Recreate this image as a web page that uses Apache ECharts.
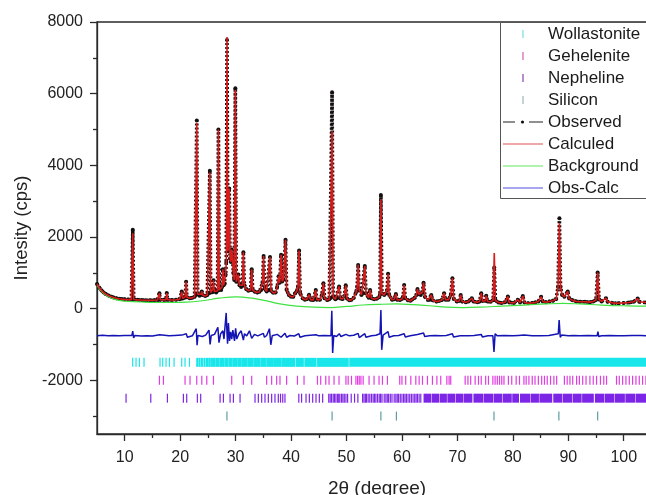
<!DOCTYPE html>
<html><head><meta charset="utf-8">
<script src="https://cdn.jsdelivr.net/npm/echarts@6/dist/echarts.min.js"></script>
<style>html,body{margin:0;padding:0;background:#fff}#c{width:646px;height:495px}</style>
</head><body><div id="c"></div>
<script>
// ---- data ----
const obs = [[5,690],[5.4,590],[5.8,510],[6.2,450],[6.6,405],[7,370],[7.5,335],[8,310],[8.5,290],[9,275],[9.5,265],[10,258],[10.6,252],[11.2,250],
[11.3,255],[11.45,2200],[11.62,255],
[12.3,245],[13,240],[13.7,235],[14.5,232],[15.2,235],[15.9,240],[16.1,250],[16.26,430],[16.42,250],[17.0,245],[17.42,250],[17.58,435],[17.74,250],[18.4,240],[19.2,245],[19.9,260],[20.1,275],[20.28,475],[20.45,285],[20.8,300],[20.92,330],[21.07,753],[21.22,320],[21.7,290],[22.2,300],[22.6,330],[22.85,380],[23.0,5250],[23.15,400],[23.5,360],[23.78,400],[23.9,480],[24.05,380],[24.5,350],[24.9,380],[25.2,430],[25.35,3850],[25.5,450],[25.8,460],[25.93,560],[26.02,790],[26.15,480],[26.5,450],[26.75,500],[26.9,5000],[27.05,520],[27.4,520],[27.55,600],[27.7,1100],[27.85,650],[28.05,700],[28.2,950],[28.32,1300],[28.45,7500],[28.6,1600],[28.72,2000],[28.85,3350],[29.0,1400],[29.15,1300],[29.3,1650],[29.45,1400],[29.6,1000],[29.75,800],[29.95,6150],[30.12,750],[30.35,800],[30.5,950],[30.7,650],[31.0,600],[31.22,650],[31.4,1570],[31.58,650],[31.9,550],[32.3,500],[32.7,520],[32.9,1100],[33.08,520],[33.5,470],[33.9,450],[34.3,470],[34.6,520],[34.85,720],[35.05,1470],[35.22,560],[35.6,480],[35.95,520],[36.2,1440],[36.38,500],[36.8,440],[37.2,450],[37.5,600],[37.75,900],[37.95,720],[38.2,1500],[38.4,760],[38.62,820],[39.0,1920],[39.2,520],[39.6,380],[40.0,330],[40.4,330],[40.7,420],[41.0,480],[41.25,600],[41.45,1620],[41.65,420],[42.1,290],[42.5,250],[42.9,270],[43.25,390],[43.55,250],[44.0,240],[44.25,280],[44.45,520],[44.65,250],[45.2,250],[45.55,380],[45.84,710],[46.05,290],[46.5,240],[46.9,260],[47.2,300],[47.4,6040],[47.6,330],[48.0,260],[48.3,290],[48.66,620],[48.9,280],[49.3,270],[49.6,350],[49.86,650],[50.1,280],[50.5,230],[50.9,250],[51.3,300],[51.7,450],[51.92,600],[52.1,1220],[52.3,520],[52.7,380],[53.0,430],[53.3,1190],[53.52,420],[54.0,300],[54.25,520],[54.5,290],[55.0,260],[55.5,280],[55.9,320],[56.05,400],[56.2,3170],[56.38,420],[56.8,380],[57.1,420],[57.32,520],[57.5,970],[57.7,380],[58.2,250],[58.6,260],[58.9,410],[59.15,250],[59.6,240],[60.0,270],[60.2,330],[60.4,660],[60.6,290],[61.1,230],[61.5,220],[61.9,260],[62.3,300],[62.6,380],[62.8,550],[63.05,400],[63.4,380],[63.65,450],[63.9,725],[64.15,330],[64.7,240],[65.05,250],[65.3,380],[65.55,230],[66.2,200],[66.7,210],[67.2,240],[67.6,430],[67.85,250],[68.4,250],[68.8,380],[69.1,850],[69.35,270],[69.9,200],[70.3,210],[70.6,380],[70.85,200],[71.5,180],[72.0,200],[72.3,240],[72.6,290],[72.9,200],[73.6,180],[74.0,200],[74.3,430],[74.55,210],[75.0,220],[75.2,360],[75.45,200],[76.0,190],[76.45,240],[76.65,1150],[76.85,230],[77.4,170],[78.0,160],[78.6,180],[79.1,340],[79.35,170],[80.2,160],[80.9,250],[81.3,170],[81.8,350],[82.1,170],[82.8,150],[83.5,160],[84.0,170],[84.6,200],[85.1,330],[85.4,200],[86.0,180],[86.6,200],[87.2,220],[87.8,260],[88.15,600],[88.4,2520],[88.6,600],[88.9,380],[89.3,330],[89.9,480],[90.15,280],[90.8,230],[91.5,200],[92.2,190],[93.0,190],[93.8,180],[94.5,200],[95.0,240],[95.3,1005],[95.55,260],[96.0,200],[96.8,290],[97.1,190],[98.0,160],[99.0,150],[100.0,160],[101.0,170],[101.8,190],[102.5,280],[102.8,190],[104.0,170],[105.0,180],[106,180]];

// calculated profile differs from observed only at these points
const calcFixX = [11.45, 23.0, 25.35, 28.45, 29.95, 47.4, 56.2, 76.65, 88.4];
const calcFixY = [2100, 5180, 3800, 7580, 6100, 4950, 3050, 1550, 2380];

const bgPts = [[5,650],[6,450],[7,340],[8,270],[9,230],[10,210],[13,185],[17,170],[21,180],[24,220],[27,290],[30,330],[33,290],[36,200],[38,130],[41,70],[44,40],[47,30],[50,60],[53,100],[56,120],[59,130],[62,110],[65,80],[68,40],[71,30],[74,40],[78,70],[82,100],[86,130],[89,145],[92,130],[96,100],[100,80],[104,70],[106,70]];

const diffPts = [[5,-760],[6,-745],[7,-755],[8,-748],[9,-760],[10,-752],[11.3,-750],[11.45,-630],[11.6,-820],[11.8,-750],[13,-762],[14,-755],[15,-765],[16.3,-730],[16.5,-770],[18,-760],[19,-750],[20.3,-740],[20.5,-770],[21.1,-700],[21.3,-800],[22.2,-760],[22.5,-750],[22.9,-560],[23.05,-1020],[23.2,-750],[24,-780],[24.6,-740],[25.2,-600],[25.4,-1000],[25.6,-750],[26.2,-720],[26.8,-520],[27.0,-950],[27.3,-700],[27.7,-620],[27.9,-850],[28.3,-120],[28.45,-700],[28.55,-980],[28.7,-400],[28.9,-900],[29.1,-650],[29.3,-850],[29.5,-600],[29.8,-900],[30.0,-550],[30.2,-850],[30.6,-700],[31.0,-620],[31.4,-880],[31.6,-700],[32.0,-760],[32.5,-620],[32.9,-830],[33.4,-720],[34.0,-760],[35.0,-690],[35.2,-800],[35.6,-750],[36.1,-560],[36.35,-1010],[36.6,-760],[37.5,-720],[38.2,-800],[38.9,-690],[39.2,-800],[39.8,-750],[40.6,-765],[41.4,-700],[41.6,-800],[42.5,-760],[43.5,-745],[44.5,-730],[45,-760],[46,-750],[47.2,-760],[47.35,-60],[47.5,-1240],[47.7,-750],[48.2,-780],[48.7,-700],[49,-780],[49.9,-720],[50.5,-760],[51.3,-745],[52.1,-690],[52.3,-810],[53.3,-700],[53.5,-800],[54.5,-760],[55.3,-745],[56.05,-700],[56.2,-40],[56.35,-1150],[56.6,-740],[57.5,-640],[57.7,-800],[58.5,-760],[59.4,-750],[60.4,-700],[60.6,-790],[61.5,-755],[62.8,-720],[63.0,-770],[63.9,-680],[64.1,-780],[65,-760],[66,-750],[67,-760],[68,-748],[69.1,-700],[69.3,-790],[70.5,-760],[72,-760],[73,-750],[74.3,-720],[74.5,-790],[75.5,-755],[76.4,-760],[76.6,-1210],[76.8,-700],[77.2,-760],[78.5,-752],[80,-760],[81,-748],[82,-740],[83.5,-760],[85,-760],[86.5,-750],[88.2,-700],[88.35,-320],[88.55,-800],[88.8,-740],[90,-760],[91,-750],[92,-760],[93.5,-752],[95.2,-760],[95.35,-640],[95.5,-780],[96,-760],[97.5,-750],[99,-760],[100,-760],[101.5,-752],[103,-750],[104.5,-758],[106,-760]];

// Bragg reflection positions (single values or [start,end] ranges where the ticks merge)
const wollTicks = [11.44,12.04,12.65,13.48,16.37,16.85,17.45,18.06,18.9,20.28,20.88,21.67,
[23.0,23.15],[23.4,23.55],[23.8,24.0],[24.3,24.45],[24.7,25.0],[25.2,25.4],[25.6,25.8],[26.0,26.3],[26.5,27.0],[27.2,27.9],[28.1,28.6],[28.8,29.3],[29.5,30.2],[30.4,31.0],[31.2,32.0],[32.2,33.1],[33.3,34.4],[34.6,35.5],[35.7,36.8],[37.0,38.2],[38.4,40.6],[40.9,42.2],[42.5,44.5],[44.8,50.3],[50.6,106]];
const gehTicks = [16.26,16.98,20.88,21.78,22.99,23.9,24.8,26.0,29.3,31.4,32.9,35.6,36.5,37.4,38.0,39.2,41.15,42.34,44.76,45.35,46.26,46.85,47.75,48.65,49.9,50.3,50.9,51.7,52.0,52.3,52.6,53.0,54.07,54.97,55.87,56.48,57.38,59.6,60.0,60.68,61.6,62.5,63.1,63.7,64.6,65.5,66.3,67.0,68.1,68.5,68.8,71.4,71.9,72.4,73.2,73.8,74.3,75.1,75.6,76.4,76.8,77.2,77.6,78.0,78.4,79.2,79.8,80.6,81.2,82.0,82.4,82.9,83.5,84.0,84.6,85.2,85.7,86.2,86.8,87.4,87.9,89.3,89.8,90.3,90.8,91.5,92.0,92.6,93.2,93.9,94.5,95.1,95.8,96.4,96.9,98.7,99.2,99.8,100.4,101.0,101.6,102.2,102.8,103.4,104.0,104.6,105.2];
const nephTicks = [10.24,14.7,17.7,20.58,21.18,23.1,23.7,27.2,27.8,29.0,29.6,30.8,33.5,34.1,34.7,35.3,35.9,36.5,37.1,37.7,38.1,38.5,38.9,41.4,41.9,42.7,43.3,43.9,44.5,45.1,45.7,
46.8,47.05,47.3,47.6,47.85,48.1,48.4,48.6,48.8,49.1,49.35,49.6,49.9,50.2,50.85,51.45,52.05,52.9,53.15,53.4,53.6,53.9,54.2,54.5,54.8,55.05,55.3,55.6,55.9,56.15,56.4,56.8,57.1,57.35,57.6,57.9,58.2,58.6,58.9,59.15,59.4,59.7,60.0,60.3,60.55,60.8,61.1,61.4,61.7,62.0,62.3,62.55,62.8,63.1,63.4,
[64.0,65.2],[65.5,66.6],[66.9,68.0],[68.3,69.5],[69.8,71.0],[71.3,72.6],[73.0,74.6],[74.9,76.4],[76.7,78.0],[78.3,79.7],[80.0,81.0],[81.4,83.0],[83.3,84.6],[84.9,87.0],[87.4,88.8],[89.1,90.6],[90.9,92.3],[92.6,94.5],[94.9,96.4],[96.7,98.2],[98.5,100.1],[100.4,102.0],[102.3,104.0],[104.3,106]];
const siTicks = [28.44,47.4,56.2,59.0,76.6,88.3,95.3];
const rowLevels = [-1500,-2000,-2500,-3000];

const yMajor = [-2000,0,2000,4000,6000,8000];
const yMinor = [-3000,-1000,1000,3000,5000,7000];
const xMajor = [10,20,30,40,50,60,70,80,90,100];
const xMinor = [15,25,35,45,55,65,75,85,95,105];

const legendNames = ['Wollastonite','Gehelenite','Nepheline','Silicon','Observed','Calculed','Background','Obs-Calc'];

// ---- build ----
const calc = obs.map(p => { const i = calcFixX.indexOf(p[0]); return i >= 0 ? [p[0], calcFixY[i]] : p; });
const FONT = '"Liberation Sans", Arial, sans-serif';
const AX = '#2b2b2b';
const colors = { woll:'#18e6ea', geh:'#e03ce0', neph:'#7d25e6', si:'#5f9ea0', obs:'#141010', calc:'#d81c1c', bg:'#3fe23f', diff:'#1414b4' };

function tickSeries(name, arr, level, color) {
  return {
    type:'custom', name, xAxisIndex:0, yAxisIndex:0, clip:true, silent:true, z:2,
    data: arr.map(t => Array.isArray(t) ? [t[0], t[1], level] : [t, t, level]),
    encode:{ x:[0,1], y:2 },
    renderItem(params, api) {
      const a = api.coord([api.value(0), api.value(2)]);
      const b = api.coord([api.value(1), api.value(2)]);
      const h = 9, w = Math.max(b[0]-a[0]+1.2, 1.2);
      return { type:'rect', shape:{ x:a[0]-0.6, y:a[1]-h/2, width:w, height:h }, style:{ fill:color } };
    }
  };
}

const legendColors = ['#7ee0e0','#d070b0','#9050b0','#a8b8b8'];
const lg = [];
const LX = 500, LT = 22, ROW = 22;
lg.push({ type:'rect', shape:{ x:LX+0.5, y:LT+0.5, width:200, height:176 }, style:{ fill:'#fff', stroke:'#555', lineWidth:1 }, z:100 });
legendNames.forEach((n, i) => {
  const cy = LT + 12 + i*ROW;
  lg.push({ type:'text', x:548, y:cy, style:{ text:n, font:'17px ' + FONT, fill:'#1a1a1a', textVerticalAlign:'middle' }, z:101 });
  if (i < 4) {
    lg.push({ type:'line', shape:{ x1:523, y1:cy-4, x2:523, y2:cy+4 }, style:{ stroke:legendColors[i], lineWidth:1.3 }, z:101 });
  }
});
const ly = i => LT + 12 + i*ROW;
lg.push({ type:'line', shape:{ x1:503, y1:ly(4), x2:515, y2:ly(4) }, style:{ stroke:'#444', lineWidth:1.2 }, z:101 });
lg.push({ type:'circle', shape:{ cx:522.5, cy:ly(4), r:1.6 }, style:{ fill:'#111' }, z:101 });
lg.push({ type:'line', shape:{ x1:529, y1:ly(4), x2:543, y2:ly(4) }, style:{ stroke:'#444', lineWidth:1.2 }, z:101 });
lg.push({ type:'line', shape:{ x1:503, y1:ly(5), x2:543, y2:ly(5) }, style:{ stroke:'#e05050', lineWidth:1.2 }, z:101 });
lg.push({ type:'line', shape:{ x1:503, y1:ly(6), x2:543, y2:ly(6) }, style:{ stroke:'#60e860', lineWidth:1.2 }, z:101 });
lg.push({ type:'line', shape:{ x1:503, y1:ly(7), x2:543, y2:ly(7) }, style:{ stroke:'#5050e0', lineWidth:1.2 }, z:101 });

const axisBase = (extra) => Object.assign({
  type:'value', splitLine:{show:false}
}, extra);

const option = {
  animation:false,
  backgroundColor:'#fff',
  grid:{ left:97, top:22, width:560, height:412, containLabel:false, outerBoundsMode:'none',
    show:true, borderColor:AX, borderWidth:1.3, backgroundColor:'transparent' },
  xAxis:[
    axisBase({ min:5, max:106, position:'bottom',
      axisLine:{ show:true, onZero:false, lineStyle:{ color:AX, width:1.3 } },
      axisTick:{ show:true, length:7, customValues:xMajor, lineStyle:{ color:AX, width:1.3 } },
      axisLabel:{ customValues:xMajor, fontSize:16, color:'#222', fontFamily:FONT, margin:16, formatter:v => String(v) },
      name:'2θ (degree)', nameLocation:'middle', nameGap:45,
      nameTextStyle:{ fontSize:19, color:'#222', fontFamily:FONT, verticalAlign:'top' } }),
    axisBase({ min:5, max:106, position:'bottom',
      axisLine:{ show:false, onZero:false },
      axisTick:{ show:true, length:4, customValues:xMinor, lineStyle:{ color:AX, width:1.3 } },
      axisLabel:{ show:false } })
  ],
  yAxis:[
    axisBase({ min:-3500, max:8000, position:'left',
      axisLine:{ show:true, onZero:false, lineStyle:{ color:AX, width:1.3 } },
      axisTick:{ show:true, length:7, customValues:yMajor, lineStyle:{ color:AX, width:1.3 } },
      axisLabel:{ customValues:yMajor, fontSize:16, color:'#222', fontFamily:FONT, margin:14, formatter:v => String(v) },
      name:'Intesity (cps)', nameLocation:'middle', nameGap:64,
      nameTextStyle:{ fontSize:18.5, color:'#222', fontFamily:FONT } }),
    axisBase({ min:-3500, max:8000, position:'left', offset:0,
      axisLine:{ show:false, onZero:false },
      axisTick:{ show:true, length:4, customValues:yMinor, lineStyle:{ color:AX, width:1.3 } },
      axisLabel:{ show:false } })
  ],
  series:[
    tickSeries('Wollastonite', wollTicks, rowLevels[0], colors.woll),
    tickSeries('Gehelenite', gehTicks, rowLevels[1], colors.geh),
    tickSeries('Nepheline', nephTicks, rowLevels[2], colors.neph),
    tickSeries('Silicon', siTicks, rowLevels[3], colors.si),
    { type:'line', name:'Observed', data:obs, xAxisIndex:0, yAxisIndex:0, z:3,
      symbol:'circle', symbolSize:4, showSymbol:true, itemStyle:{ color:'#141010' },
      lineStyle:{ color:colors.obs, width:3.6, type:[2,2] }, silent:true },
    { type:'line', name:'Background', data:bgPts, xAxisIndex:0, yAxisIndex:0, z:4, smooth:0.4,
      symbol:'none', lineStyle:{ color:colors.bg, width:1.2 }, silent:true },
    { type:'line', name:'Calculed', data:calc, xAxisIndex:0, yAxisIndex:0, z:5,
      symbol:'none', lineStyle:{ color:colors.calc, width:1.6 }, silent:true },
    { type:'line', name:'Obs-Calc', data:diffPts, xAxisIndex:0, yAxisIndex:0, z:5,
      symbol:'none', lineStyle:{ color:colors.diff, width:1.5 }, silent:true }
  ],
  graphic: lg
};
const chart = echarts.init(document.getElementById('c'), null, { renderer:'canvas' });
chart.setOption(option);
</script></body></html>
